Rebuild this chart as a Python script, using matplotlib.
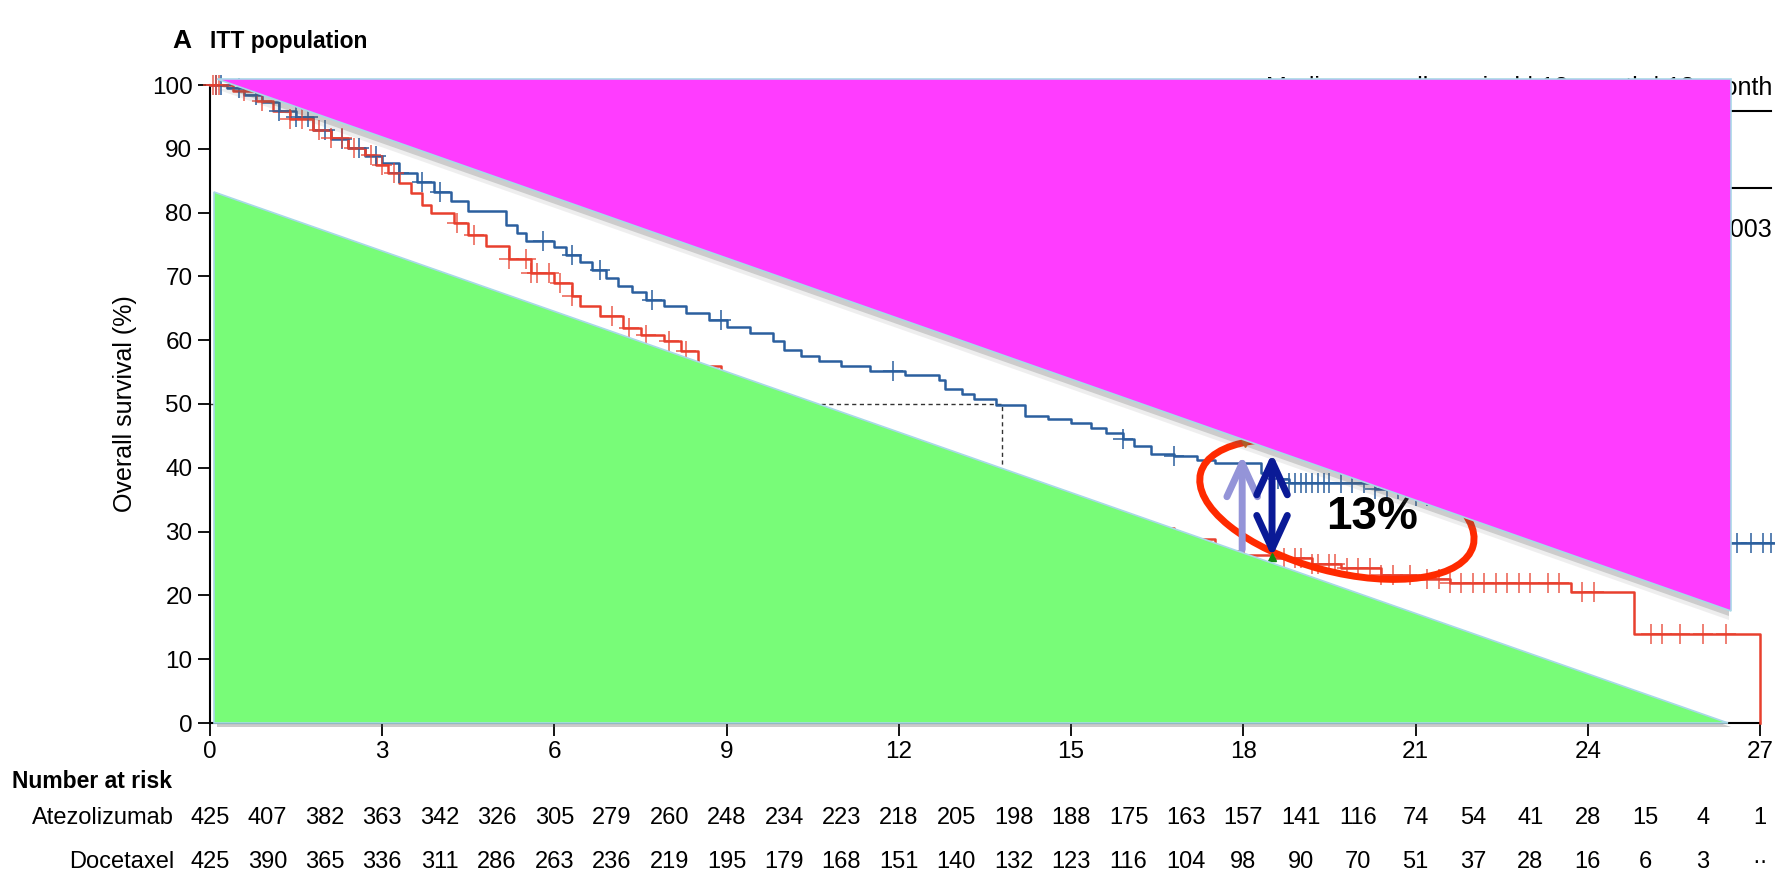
import numpy as np
import matplotlib.pyplot as plt
import matplotlib.patheffects as pe
import matplotlib.transforms as mtransforms
from matplotlib.patches import Polygon, Ellipse, FancyArrowPatch
from matplotlib.lines import Line2D

plt.rcParams['font.family'] = ['Liberation Sans', 'DejaVu Sans']

# Kaplan-Meier steps (months, % alive)
atezo_t = [0, 0.3, 0.6, 0.9, 1.2, 1.5, 1.8, 2.1, 2.4, 2.7, 3.0, 3.3, 3.6, 3.9, 4.2, 4.5,
           5.15, 5.35, 5.5, 6.0, 6.2, 6.45, 6.65, 6.9, 7.1, 7.35, 7.6, 7.9, 8.3, 8.7, 9.0,
           9.4, 9.8, 10.0, 10.3, 10.6, 11.0, 11.5, 12.1, 12.7, 12.8, 13.1, 13.3, 13.7, 14.2,
           14.6, 15.0, 15.35, 15.6, 15.9, 16.1, 16.4, 16.8, 17.2, 17.5, 18.3, 18.6, 18.8,
           20.3, 21.0, 22.0, 22.8, 23.5, 24.2, 24.9, 25.6, 27.25]
atezo_s = [100, 99.5, 98.5, 97.3, 96.0, 95.0, 93.0, 91.5, 90.2, 88.8, 87.8, 86.2, 84.8, 83.2,
           81.8, 80.3, 78.0, 76.8, 75.6, 74.6, 73.3, 72.2, 71.0, 69.8, 68.5, 67.6, 66.3, 65.3,
           64.3, 63.2, 62.0, 61.2, 59.9, 58.5, 57.6, 56.7, 55.9, 55.1, 54.6, 53.8, 52.3, 51.6,
           50.8, 49.9, 48.1, 47.6, 47.0, 46.3, 45.5, 44.5, 43.4, 42.2, 41.8, 41.2, 40.7, 39.2,
           38.3, 37.6, 36.6, 35.6, 34.4, 33.2, 31.8, 30.5, 29.4, 28.2, 28.2]

doce_t = [0, 0.4, 0.8, 1.1, 1.4, 1.8, 2.1, 2.4, 2.7, 2.9, 3.1, 3.3, 3.5, 3.7, 3.85, 4.25, 4.5,
          4.8, 5.2, 5.6, 6.0, 6.3, 6.45, 6.8, 7.2, 7.5, 7.9, 8.2, 8.5, 8.9, 9.6, 10.2, 10.8,
          11.4, 12.0, 12.8, 13.6, 14.4, 15.2, 16.0, 16.8, 17.5, 18.0, 18.5, 19.2, 19.7, 20.4,
          21.0, 21.6, 23.7, 24.8, 27.0]
doce_s = [100, 99.0, 97.5, 96.0, 94.6, 93.0, 91.7, 90.2, 89.0, 87.5, 86.2, 84.6, 83.1, 81.2,
          79.9, 78.4, 76.5, 74.7, 72.7, 70.6, 69.0, 67.0, 65.4, 63.8, 61.9, 60.8, 59.8, 58.3,
          56.0, 52.0, 50.0, 47.0, 44.5, 42.5, 41.0, 38.5, 36.0, 34.0, 32.0, 30.5, 28.8, 27.0,
          26.4, 25.9, 25.0, 24.3, 23.2, 22.6, 22.0, 20.6, 14.0, 0]

atezo_cens = [0.1, 0.2, 0.5, 0.8, 1.2, 1.5, 1.7, 2.0, 2.3, 2.6, 2.9, 3.3, 3.7, 4.0, 5.8, 6.3,
              6.8, 7.7, 8.9, 11.9, 15.9, 16.8, 18.6, 18.8, 18.9, 19.0, 19.1, 19.2, 19.3, 19.4,
              19.5, 19.7, 19.9, 20.1, 20.3, 20.5, 20.7, 21.0, 21.2, 21.5, 21.8, 22.0, 22.3,
              22.6, 23.0, 24.0, 25.5, 26.0, 26.6, 26.85, 27.05, 27.2]
doce_cens = [0.05, 0.1, 0.15, 0.6, 0.9, 1.4, 1.6, 1.9, 2.1, 2.3, 2.5, 2.8, 3.0, 3.2, 4.3, 4.6,
             5.2, 5.5, 5.6, 5.7, 5.9, 6.1, 6.3, 7.0, 7.3, 7.6, 8.0, 8.3, 18.7, 18.9, 19.0, 19.2,
             19.3, 19.5, 19.6, 19.8, 20.0, 20.2, 20.4, 20.6, 20.9, 21.2, 21.4, 21.6, 21.8, 22.0,
             22.2, 22.4, 22.6, 22.8, 23.0, 23.3, 23.5, 23.9, 24.1, 25.1, 25.3, 25.6, 26.0, 26.4]

# number at risk, months 0..27
risk_months = list(range(28))
atezo_risk = [425, 407, 382, 363, 342, 326, 305, 279, 260, 248, 234, 223, 218, 205, 198, 188,
              175, 163, 157, 141, 116, 74, 54, 41, 28, 15, 4, 1]
doce_risk = [425, 390, 365, 336, 311, 286, 263, 236, 219, 195, 179, 168, 151, 140, 132, 123,
             116, 104, 98, 90, 70, 51, 37, 28, 16, 6, 3, "··"]

median_atezo = 13.8

blue = "#2b5f9e"
red = "#e8402e"

fig = plt.figure(figsize=(17.75, 8.74), dpi=100)
ax = fig.add_axes([210 / 1775, 151 / 874, 1550 / 1775, 638 / 874])
ax.set_xlim(0, 27)
ax.set_ylim(0, 100)


def at(t, s, x):
    i = np.searchsorted(t, x, side="right") - 1
    return np.array(s)[i]


# curves
ax.step(atezo_t, atezo_s, where="post", color=blue, lw=1.8, zorder=3, clip_on=False)
ax.step(doce_t, doce_s, where="post", color=red, lw=1.8, zorder=3, clip_on=False)
ax.plot(atezo_cens, at(atezo_t, atezo_s, atezo_cens), "+", color=blue, ms=14, mew=1.1,
        zorder=3, clip_on=False)
ax.plot(doce_cens, at(doce_t, doce_s, doce_cens), "+", color=red, ms=14, mew=1.1,
        alpha=0.85, zorder=3, clip_on=False)

# median line
ax.plot([0, median_atezo, median_atezo], [50, 50, 0], ls=(0, (3, 2.5)), color="#333333",
        lw=1.0, zorder=2)

# ellipse + arrows around the 18-month gap
cx, cy = ax.transData.transform((19.63, 33.5))
ell = Ellipse((cx, cy), 282, 124, angle=-15, transform=mtransforms.IdentityTransform(),
              fill=False, ec="#ff2a00", lw=5, zorder=4, clip_on=False)
ax.add_patch(ell)

arr1 = FancyArrowPatch((17.98, 27.2), (17.98, 42.0), arrowstyle="->,head_length=1.2,head_width=0.55",
                       mutation_scale=20, color="#9494d8", lw=5, shrinkA=0, shrinkB=0,
                       capstyle="round", joinstyle="round", zorder=4)
arr2 = FancyArrowPatch((18.5, 26.0), (18.5, 42.3), arrowstyle="<->,head_length=1.2,head_width=0.55",
                       mutation_scale=20, color="#0a1a96", lw=5, shrinkA=0, shrinkB=0,
                       capstyle="round", joinstyle="round", zorder=4)
ax.add_patch(arr1)
ax.add_patch(arr2)
ax.plot([18.03], [43.9], "v", color="#d06010", ms=6, zorder=4)
ax.plot([18.5], [26.0], "^", color="#118811", ms=6, zorder=4)
ax.text(20.24, 32.3, "13%", weight="bold", fontsize=33, ha="center", va="center", zorder=4)

# green block (inside the axes, over the curves)
green = Polygon([(0.07, 83.2), (0.07, 0), (26.45, 0)], closed=True, fc="#78fc78",
                ec="#a8d8e8", lw=1.2, zorder=5, clip_on=False,
                path_effects=[pe.SimplePatchShadow(offset=(2, -3), shadow_rgbFace="#555555",
                                                   alpha=0.3), pe.Normal()])
ax.add_patch(green)

# legend text that sits behind the magenta block (figure level, under the magenta)
fig.text(1772 / 1775, (874 - 95) / 874, "Median overall survival | 12-month | 18-month",
         ha="right", va="baseline", fontsize=18, zorder=1)
fig.text(1772 / 1775, (874 - 230) / 874, "p=0·0003", ha="right", va="center", fontsize=18,
         zorder=1)
for yy in [111, 188]:
    fig.add_artist(Line2D([0.70, 0.998], [(874 - yy) / 874] * 2, transform=fig.transFigure,
                          color="black", lw=1.5, zorder=1))

# magenta block on top of everything in the axes
magenta = Polygon([(0.12, 100.9), (26.49, 100.9), (26.49, 17.6)], closed=True, fc="#ff3cff",
                  ec="#a8d8e8", lw=1.2, transform=ax.transData, zorder=2,
                  path_effects=[pe.SimplePatchShadow(offset=(-1, -7), shadow_rgbFace="#777777",
                                                     alpha=0.12),
                                pe.SimplePatchShadow(offset=(-1, -4), shadow_rgbFace="#555555",
                                                     alpha=0.22),
                                pe.Normal()])
fig.add_artist(magenta)

# axes styling
for side in ["top", "right"]:
    ax.spines[side].set_visible(False)
for side in ["left", "bottom"]:
    ax.spines[side].set_linewidth(1.5)
ax.set_xticks(range(0, 28, 3))
ax.set_yticks(range(0, 101, 10))
ax.tick_params(direction="out", length=9, width=1.3, labelsize=17.5, pad=3.6)
ax.set_ylabel("Overall survival (%)", fontsize=18)
ax.yaxis.set_label_coords(-0.047, 0.5)

# title
fig.text(172 / 1775, (874 - 48) / 874, "A", fontsize=19, weight="bold", va="baseline")
fig.text(210 / 1775, (874 - 48) / 874, "ITT population", fontsize=16.5, weight="bold",
         va="baseline")

# number at risk table
bt = mtransforms.blended_transform_factory(ax.transData, fig.transFigure)
fig.text(12 / 1775, (874 - 782) / 874, "Number at risk", fontsize=16.5, weight="bold",
         va="center")
fig.text(174 / 1775, (874 - 818) / 874, "Atezolizumab", fontsize=17, ha="right", va="center")
fig.text(174 / 1775, (874 - 862) / 874, "Docetaxel", fontsize=17, ha="right", va="center")
for m, a, d in zip(risk_months, atezo_risk, doce_risk):
    ax.text(m, (874 - 818) / 874, str(a), transform=bt, fontsize=17, ha="center",
            va="center", clip_on=False)
    ax.text(m, (874 - 862) / 874, str(d), transform=bt, fontsize=17, ha="center",
            va="center", clip_on=False)

fig.savefig("out.png", dpi=100, facecolor="white")
